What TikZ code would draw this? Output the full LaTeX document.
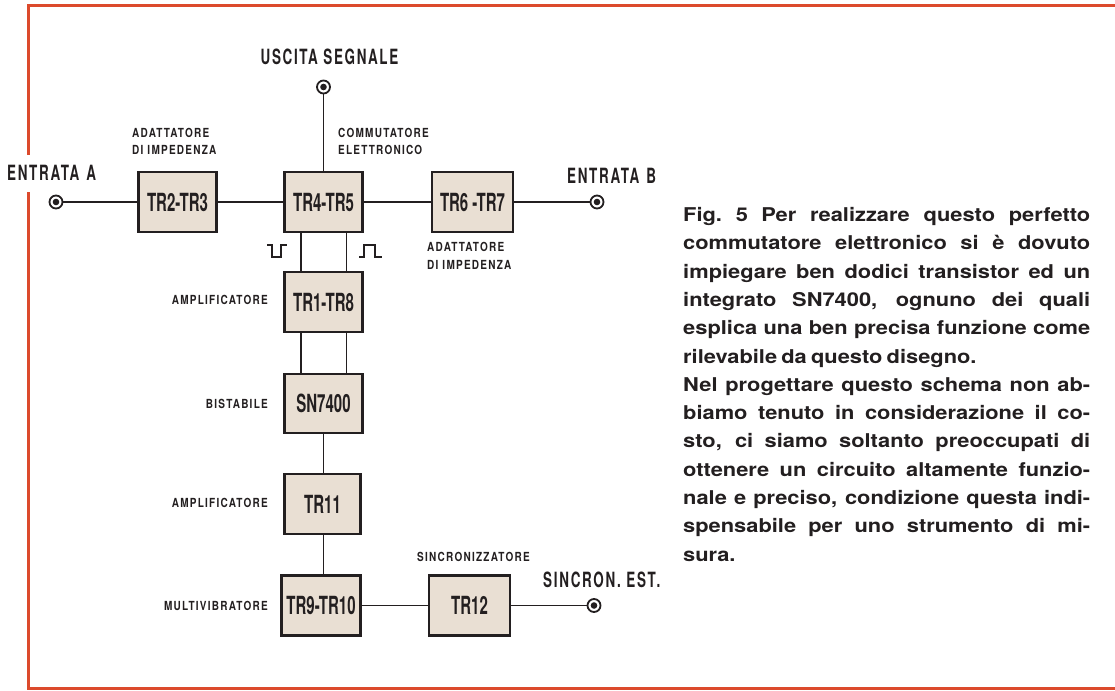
\documentclass[tikz,border=0pt]{standalone}
\usepackage{fontspec}
\setmainfont{TeX Gyre Heros}
\newfontfamily\capface{TeX Gyre Heros}[FakeStretch=1.15]
\newfontfamily\boxface{TeX Gyre Heros}[FakeStretch=0.6]
\newfontfamily\bigface{TeX Gyre Heros}[FakeStretch=0.64,LetterSpace=8]
\newfontfamily\smallface{TeX Gyre Heros}[FakeStretch=0.8,LetterSpace=10]
\definecolor{framered}{HTML}{DC4A2C}
\definecolor{boxfill}{HTML}{E9DFD3}
\definecolor{ink}{HTML}{231F20}

\begin{document}
\begin{tikzpicture}[x=1pt,y=-1pt,
  blk/.style={draw=ink,line width=2.6pt,fill=boxfill,minimum width=78pt,minimum height=60pt,
    inner sep=0pt,text=ink,font=\boxface\bfseries\fontsize{25}{27}\selectfont},
  jack/.style={circle,draw=ink,line width=1.8pt,fill=white,minimum size=13pt,inner sep=0pt,
    path picture={\fill[ink] (path picture bounding box.center) circle (3.3pt);}},
  wire/.style={draw=ink,line width=1.8pt},
  pulse/.style={draw=ink,line width=1.5pt},
  big/.style={inner sep=0pt,text=ink,font=\bigface\bfseries\fontsize{21}{23}\selectfont},
  small/.style={inner sep=0pt,text=ink,align=left,font=\smallface\bfseries\fontsize{12.5}{17.5}\selectfont},
  redline/.style={draw=framered,line width=3pt}]
  \useasboundingbox (0,0) rectangle (1115,690);
  % frame
  \draw[redline] (1115,6) -- (28,6) -- (28,155);
  \draw[redline] (28,192) -- (28,688) -- (1115,688);
  % blocks
  \node[blk] (T23) at (177.5,202) {TR2-TR3};
  \node[blk] (T45) at (323.5,202) {TR4-TR5};
  \node[blk,minimum width=81pt] (T67) at (472.5,202) {TR6 -TR7};
  \node[blk] (T18) at (323.5,302) {TR1-TR8};
  \node[blk,minimum height=59pt] (SN) at (323.5,403.5) {SN7400};
  \node[blk,minimum width=76pt] (T11) at (322.5,504) {TR11};
  \node[blk,minimum width=79pt] (T910) at (321,605.5) {TR9-TR10};
  \node[blk,minimum width=81pt] (T12) at (469.5,605.5) {TR12};
  % jacks
  \node[jack] (JA) at (56,202) {};
  \node[jack] (JB) at (597,202) {};
  \node[jack] (JU) at (323.5,87) {};
  \node[jack] (JS) at (594,605.5) {};
  % wires
  \draw[wire] (JA) -- (T23) -- (T45) -- (T67) -- (JB);
  \draw[wire] (JU) -- (T45);
  \draw[wire] ([xshift=-22.5pt]T45.south) -- ([xshift=-22.5pt]T18.north);
  \draw[wire] ([xshift=23pt]T45.south) -- ([xshift=23pt]T18.north);
  \draw[wire] ([xshift=-22.5pt]T18.south) -- ([xshift=-22.5pt]SN.north);
  \draw[wire] ([xshift=23pt]T18.south) -- ([xshift=23pt]SN.north);
  \draw[wire] (SN.south) -- (SN.south |- T11.north);
  \draw[wire] (SN.south |- T11.south) -- (SN.south |- T910.north);
  \draw[wire] (T910) -- (T12) -- (JS);
  % pulses
  \draw[pulse] (267,245) -- (272,245) -- (272,257) -- (281,257) -- (281,245) -- (287,245);
  \draw[pulse] (359,257) -- (364,257) -- (364,245) -- (375,245) -- (375,257) -- (382,257);
  % labels
  \node[big] (LU) at (329.5,57) {USCITA SEGNALE};
  \node[big,anchor=west] (LA) at (7,173) {ENTRATA\hspace{7pt}A};
  \node[big,anchor=west] (LB) at (567,176) {ENTRATA\hspace{7pt}B};
  \node[big,anchor=west] (LS) at (543,580) {SINCRON. EST.};
  \node[small,anchor=west] (AD1) at (132,141.5) {ADATTATORE\\DI IMPEDENZA};
  \node[small,anchor=west] (CE) at (338,141.5) {COMMUTATORE\\ELETTRONICO};
  \node[small,anchor=west] (AD2) at (427,256) {ADATTATORE\\DI IMPEDENZA};
  \node[small,anchor=east] (AM1) at (268,300) {AMPLIFICATORE};
  \node[small,anchor=east] (BI) at (268,404) {BISTABILE};
  \node[small,anchor=east] (AM2) at (268,503) {AMPLIFICATORE};
  \node[small,anchor=east] (MV) at (268,606) {MULTIVIBRATORE};
  \node[small] (SZ) at (473.5,557) {SINCRONIZZATORE};
  % caption
  \node[anchor=north west,text width=407pt,align=justify,inner sep=0pt,text=ink,
    font=\capface\bfseries\fontsize{19}{28.33}\selectfont] (CAP) at (683,207)
    {\spaceskip=0.22em plus 1em minus 0.05em
     Fig.~5\hspace{0.7em}Per realizzare questo perfetto\linebreak
     commutatore elettronico si è dovuto\linebreak
     impiegare ben dodici transistor ed un\linebreak
     integrato SN7400, ognuno dei quali\linebreak
     esplica una ben precisa funzione come\linebreak
     rilevabile da questo disegno.\\
     Nel progettare questo schema non ab-\linebreak
     biamo tenuto in considerazione il co-\linebreak
     sto, ci siamo soltanto preoccupati di\linebreak
     ottenere un circuito altamente funzio-\linebreak
     nale e preciso, condizione questa indi-\linebreak
     spensabile per uno strumento di mi-\linebreak
     sura.};
\end{tikzpicture}
\end{document}
